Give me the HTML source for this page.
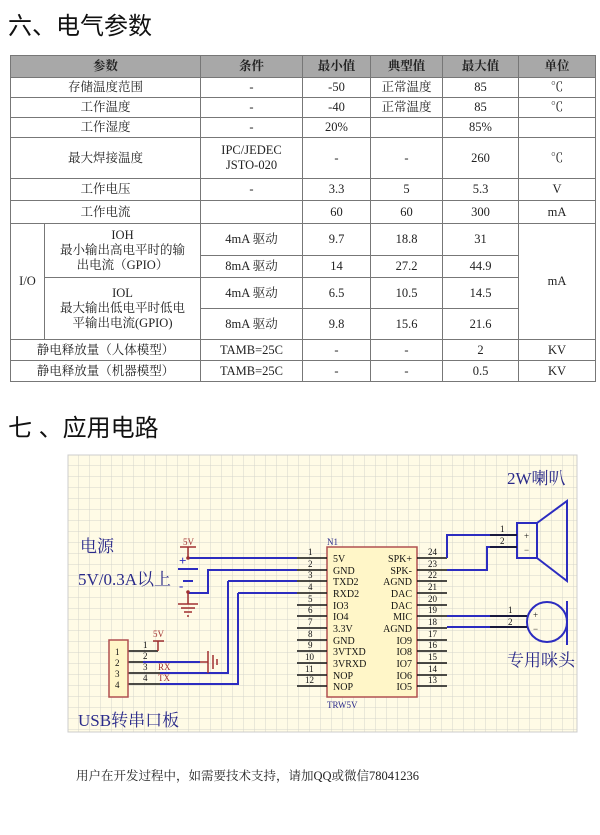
<!DOCTYPE html>
<html><head><meta charset="utf-8"><style>
body{margin:0;width:600px;height:835px;background:#fff;position:relative;overflow:hidden;font-family:"Liberation Serif","Noto Serif CJK SC",serif;}
.h{position:absolute;left:8px;font-family:"Liberation Sans","Noto Sans CJK SC",sans-serif;font-size:24px;color:#111;}
table{position:absolute;left:10px;top:55px;border-collapse:collapse;font-size:12.5px;color:#222;}
td{border:1px solid #777;text-align:center;padding:0;line-height:15px;}
tr.hd td{background:#a8a8a8;font-weight:bold;}
</style></head><body>
<div class="h" style="top:6px">六、电气参数</div>
<table>
<colgroup><col style="width:34px"><col style="width:156px"><col style="width:102px"><col style="width:68px"><col style="width:72px"><col style="width:76px"><col style="width:77px"></colgroup>
<tr class="hd" style="height:22px"><td colspan="2">参数</td><td>条件</td><td>最小值</td><td>典型值</td><td>最大值</td><td>单位</td></tr>
<tr style="height:20px"><td colspan="2">存储温度范围</td><td>-</td><td>-50</td><td>正常温度</td><td>85</td><td>℃</td></tr>
<tr style="height:20px"><td colspan="2">工作温度</td><td>-</td><td>-40</td><td>正常温度</td><td>85</td><td>℃</td></tr>
<tr style="height:20px"><td colspan="2">工作湿度</td><td>-</td><td>20%</td><td></td><td>85%</td><td></td></tr>
<tr style="height:41px"><td colspan="2">最大焊接温度</td><td>IPC/JEDEC<br>JSTO-020</td><td>-</td><td>-</td><td>260</td><td>℃</td></tr>
<tr style="height:22px"><td colspan="2">工作电压</td><td>-</td><td>3.3</td><td>5</td><td>5.3</td><td>V</td></tr>
<tr style="height:23px"><td colspan="2">工作电流</td><td></td><td>60</td><td>60</td><td>300</td><td>mA</td></tr>
<tr style="height:32px"><td rowspan="4">I/O</td><td rowspan="2">IOH<br>最小输出高电平时的输<br>出电流（GPIO）</td><td>4mA 驱动</td><td>9.7</td><td>18.8</td><td>31</td><td rowspan="4">mA</td></tr>
<tr style="height:22px"><td>8mA 驱动</td><td>14</td><td>27.2</td><td>44.9</td></tr>
<tr style="height:31px"><td rowspan="2">IOL<br>最大输出低电平时低电<br>平输出电流(GPIO)</td><td>4mA 驱动</td><td>6.5</td><td>10.5</td><td>14.5</td></tr>
<tr style="height:31px"><td>8mA 驱动</td><td>9.8</td><td>15.6</td><td>21.6</td></tr>
<tr style="height:21px"><td colspan="2">静电释放量（人体模型）</td><td>TAMB=25C</td><td>-</td><td>-</td><td>2</td><td>KV</td></tr>
<tr style="height:21px"><td colspan="2">静电释放量（机器模型）</td><td>TAMB=25C</td><td>-</td><td>-</td><td>0.5</td><td>KV</td></tr>
</table>
<div class="h" style="top:408px">七 、应用电路</div>
<svg style="position:absolute;left:0;top:0" width="600" height="835">
<defs><pattern id="g" x="68" y="455" width="11" height="11" patternUnits="userSpaceOnUse"><path d="M11 0V11M0 11H11" stroke="#d4d4cc" stroke-width="1" fill="none"/></pattern></defs>
<rect x="68" y="455" width="509" height="277" fill="#fffbe6"/>
<rect x="68" y="455" width="509" height="277" fill="url(#g)" stroke="#ccc"/>
<g font-family="Liberation Serif,Noto Serif CJK SC,serif" font-size="10" fill="#2a2a8a">
<rect x="327" y="547" width="90" height="150" fill="#fff6c8" stroke="#b05050" stroke-width="1.5"/>
<text x="327" y="545" font-size="9">N1</text><text x="327" y="708" font-size="9">TRW5V</text>
<g stroke="#111" stroke-width="1.5">
<path d="M297 558H327M297 570H327M297 581H327M297 593H327M297 605H327M297 616H327M297 628H327M297 640H327M297 651H327M297 663H327M297 675H327M297 686H327"/>
<path d="M417 558H447M417 570H447M417 581H447M417 593H447M417 605H447M417 616H447M417 628H447M417 640H447M417 651H447M417 663H447M417 675H447M417 686H447"/>
</g>
<g fill="#111" font-size="9">
<text x="308" y="555">1</text><text x="308" y="567">2</text><text x="308" y="578">3</text><text x="308" y="590">4</text><text x="308" y="602">5</text><text x="308" y="613">6</text><text x="308" y="625">7</text><text x="308" y="637">8</text><text x="308" y="648">9</text><text x="305" y="660">10</text><text x="305" y="672">11</text><text x="305" y="683">12</text>
<text x="428" y="555">24</text><text x="428" y="567">23</text><text x="428" y="578">22</text><text x="428" y="590">21</text><text x="428" y="602">20</text><text x="428" y="613">19</text><text x="428" y="625">18</text><text x="428" y="637">17</text><text x="428" y="648">16</text><text x="428" y="660">15</text><text x="428" y="672">14</text><text x="428" y="683">13</text>
</g>
<g fill="#111">
<text x="333" y="562">5V</text><text x="333" y="574">GND</text><text x="333" y="585">TXD2</text><text x="333" y="597">RXD2</text><text x="333" y="609">IO3</text><text x="333" y="620">IO4</text><text x="333" y="632">3.3V</text><text x="333" y="644">GND</text><text x="333" y="655">3VTXD</text><text x="333" y="667">3VRXD</text><text x="333" y="679">NOP</text><text x="333" y="690">NOP</text>
<g text-anchor="end"><text x="412" y="562">SPK+</text><text x="412" y="574">SPK-</text><text x="412" y="585">AGND</text><text x="412" y="597">DAC</text><text x="412" y="609">DAC</text><text x="412" y="620">MIC</text><text x="412" y="632">AGND</text><text x="412" y="644">IO9</text><text x="412" y="655">IO8</text><text x="412" y="667">IO7</text><text x="412" y="679">IO6</text><text x="412" y="690">IO5</text></g>
</g>
<g stroke="#2c2cc0" stroke-width="2" fill="none">
<path d="M188 558H297M188 593H208V570H297M228 581H297M228 581V673H160M238 593H297M238 593V684H160"/>
<path d="M143 662H200"/>
<path d="M447 558V535H517M447 570H487V547H517"/>
<path d="M447 616H527M447 627H527"/>
<rect x="517" y="523" width="20" height="35"/>
<path d="M537 523L567 501V581L537 558"/>
<circle cx="547" cy="622" r="20"/>
<path d="M567 601V645"/>
<path d="M178 569H198"/><path d="M183 581H193"/>
</g>
<g stroke="#111" stroke-width="1.5"><path d="M128 651H158M128 662H143M128 673H160M128 684H160M490 535H517M490 547H517M490 616H527M490 627H527"/></g>
<g stroke="#a03030" stroke-width="1.5" fill="none">
<path d="M188 547V558M180 547H196M188 592V604M178 604H198M181 608H195M184 612H192M187 616H189"/>
<path d="M158 651V641M153 641H164"/>
<path d="M200 662H208M208 651V673M213 655V669M217 659V665"/>
</g>
<circle cx="188" cy="558" r="1.8" fill="#a03030"/><circle cx="188" cy="592" r="1.8" fill="#a03030"/>
<g fill="#a03030" font-size="9"><text x="183" y="545">5V</text><text x="153" y="637">5V</text><text x="158" y="670">RX</text><text x="158" y="681">TX</text></g>
<g fill="#2c2cc0" font-size="13" font-weight="bold"><text x="179" y="565">+</text><text x="179" y="590">-</text></g>
<rect x="109" y="640" width="19" height="57" fill="#fff6c8" stroke="#b05050" stroke-width="1.5"/>
<g fill="#111" font-size="9"><text x="115" y="655">1</text><text x="115" y="666">2</text><text x="115" y="677">3</text><text x="115" y="688">4</text>
<text x="143" y="648">1</text><text x="143" y="659">2</text><text x="143" y="670">3</text><text x="143" y="681">4</text>
<text x="500" y="532">1</text><text x="500" y="544">2</text><text x="508" y="613">1</text><text x="508" y="625">2</text>
<text x="524" y="539">+</text><text x="524" y="553">−</text><text x="533" y="618">+</text><text x="533" y="632">−</text></g>
<g fill="#2a2a8a" font-family="Liberation Serif,Noto Serif CJK SC,serif" font-size="17">
<text x="80" y="552">电源</text><text x="78" y="585">5V/0.3A以上</text>
<text x="507" y="484">2W喇叭</text><text x="507" y="666">专用咪头</text>
<text x="78" y="726">USB转串口板</text></g>
</g>
<text x="76" y="780" font-family="Liberation Serif,Noto Serif CJK SC,serif" font-size="12.5" fill="#222">用户在开发过程中，如需要技术支持，请加QQ或微信78041236</text>
</svg>
</body></html>
